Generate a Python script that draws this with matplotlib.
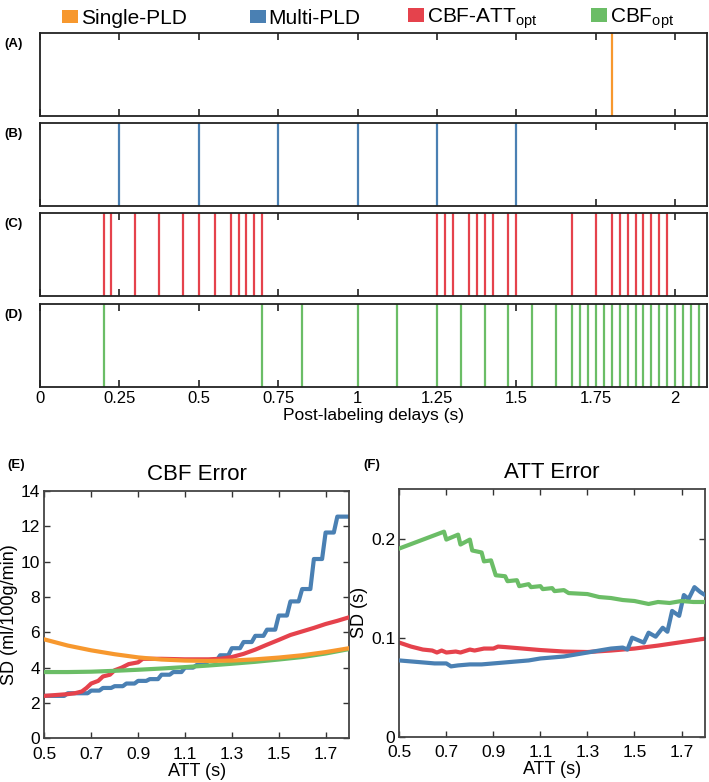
import matplotlib
matplotlib.use("Agg")
import matplotlib.pyplot as plt
from matplotlib.patches import Patch
import numpy as np

plt.rcParams['font.family'] = ['Liberation Sans', 'DejaVu Sans']

# colours and names of the four schemes
names = ['Single-PLD', 'Multi-PLD', r'CBF-ATT$_\mathregular{opt}$', r'CBF$_\mathregular{opt}$']
colors = ['#f7982e', '#4a80b3', '#e5424c', '#6bbd66']

# post-labeling delays (s) of each scheme
pld_single = [1.8]
pld_multi = [0.25, 0.5, 0.75, 1.0, 1.25, 1.5]
pld_cbfatt = [0.2, 0.225, 0.3, 0.375, 0.45, 0.5, 0.55, 0.6, 0.625, 0.65, 0.675, 0.7,
              1.25, 1.275, 1.3, 1.35, 1.375, 1.4, 1.425, 1.475, 1.5,
              1.675, 1.75, 1.8, 1.825, 1.85, 1.875, 1.9, 1.925, 1.95, 1.975]
pld_cbf = [0.2, 0.7, 0.825, 1.0, 1.125, 1.25, 1.325, 1.4, 1.475, 1.55, 1.625,
           1.675, 1.7, 1.725, 1.75, 1.775, 1.8, 1.825, 1.85, 1.875, 1.9, 1.925,
           1.95, 1.975, 2.0, 2.025, 2.05, 2.075]
pld_ticks = [0, 0.25, 0.5, 0.75, 1, 1.25, 1.5, 1.75, 2]
pld_ticklabels = ['0', '0.25', '0.5', '0.75', '1', '1.25', '1.5', '1.75', '2']

# (E) CBF error, SD in ml/100g/min
cbf_single_x = [0.5, 0.6, 0.7, 0.8, 0.9, 1.0, 1.1, 1.2, 1.3, 1.4, 1.5, 1.6, 1.7, 1.8]
cbf_single_y = [5.6, 5.25, 4.98, 4.76, 4.58, 4.46, 4.4, 4.38, 4.4, 4.47, 4.57, 4.7, 4.88, 5.1]
cbf_multi_steps = [0.5, 0.6, 0.7, 0.75, 0.8, 0.85, 0.9, 0.95, 1.0, 1.05, 1.1, 1.15, 1.2,
                   1.25, 1.3, 1.35, 1.4, 1.45, 1.5, 1.55, 1.6, 1.65, 1.7, 1.75]
cbf_multi_levels = [2.4, 2.55, 2.7, 2.85, 2.95, 3.1, 3.25, 3.35, 3.6, 3.75, 4.0, 4.15, 4.4,
                    4.7, 5.1, 5.45, 5.8, 6.15, 6.95, 7.75, 8.45, 10.15, 11.65, 12.55]
cbf_cbfatt_x = [0.5, 0.55, 0.6, 0.63, 0.66, 0.68, 0.7, 0.73, 0.75, 0.78, 0.8, 0.83, 0.86,
                0.88, 0.9, 0.92, 1.0, 1.1, 1.2, 1.25, 1.3, 1.35, 1.4, 1.45, 1.5, 1.55,
                1.6, 1.65, 1.7, 1.75, 1.8]
cbf_cbfatt_y = [2.4, 2.45, 2.5, 2.55, 2.65, 2.85, 3.1, 3.25, 3.5, 3.6, 3.85, 4.0, 4.2,
                4.25, 4.3, 4.5, 4.5, 4.47, 4.47, 4.5, 4.6, 4.78, 5.02, 5.3, 5.57, 5.85,
                6.05, 6.25, 6.47, 6.65, 6.85]
cbf_cbf_x = [0.5, 0.6, 0.7, 0.8, 0.9, 1.0, 1.1, 1.2, 1.3, 1.4, 1.5, 1.6, 1.7, 1.8]
cbf_cbf_y = [3.75, 3.75, 3.77, 3.82, 3.88, 3.95, 4.03, 4.12, 4.22, 4.33, 4.46, 4.6, 4.8, 5.05]

# (F) ATT error, SD in s
att_multi_x = [0.5, 0.55, 0.6, 0.65, 0.7, 0.72, 0.75, 0.8, 0.85, 0.9, 0.95, 1.0, 1.05,
               1.1, 1.15, 1.2, 1.25, 1.3, 1.35, 1.4, 1.45, 1.47, 1.49, 1.52, 1.54, 1.56,
               1.59, 1.62, 1.64, 1.66, 1.69, 1.71, 1.73, 1.755, 1.78, 1.8]
att_multi_y = [0.077, 0.076, 0.075, 0.074, 0.074, 0.071, 0.072, 0.073, 0.073, 0.074,
               0.075, 0.076, 0.077, 0.079, 0.080, 0.081, 0.083, 0.085, 0.087, 0.089,
               0.090, 0.088, 0.100, 0.097, 0.095, 0.105, 0.101, 0.110, 0.106, 0.127,
               0.122, 0.143, 0.139, 0.151, 0.146, 0.143]
att_cbfatt_x = [0.5, 0.55, 0.6, 0.64, 0.66, 0.68, 0.7, 0.74, 0.76, 0.8, 0.82, 0.86, 0.9,
                0.92, 0.95, 1.0, 1.1, 1.2, 1.3, 1.4, 1.5, 1.6, 1.7, 1.8]
att_cbfatt_y = [0.095, 0.091, 0.088, 0.087, 0.085, 0.087, 0.085, 0.086, 0.085, 0.088,
                0.087, 0.089, 0.089, 0.091, 0.0905, 0.0895, 0.0875, 0.086, 0.0855,
                0.087, 0.089, 0.092, 0.0955, 0.099]
att_cbf_x = [0.5, 0.69, 0.70, 0.75, 0.76, 0.80, 0.81, 0.85, 0.86, 0.89, 0.91, 0.95, 0.96,
             1.0, 1.01, 1.05, 1.06, 1.1, 1.11, 1.15, 1.16, 1.2, 1.22, 1.3, 1.35, 1.4,
             1.45, 1.5, 1.56, 1.6, 1.65, 1.7, 1.75, 1.8]
att_cbf_y = [0.190, 0.207, 0.199, 0.204, 0.194, 0.199, 0.188, 0.186, 0.177, 0.178, 0.163,
             0.162, 0.157, 0.158, 0.152, 0.154, 0.151, 0.152, 0.149, 0.150, 0.147, 0.148,
             0.145, 0.144, 0.141, 0.140, 0.138, 0.137, 0.134, 0.136, 0.135, 0.137,
             0.136, 0.136]

fig = plt.figure(figsize=(7.09, 7.82), dpi=100)

# --- PLD schedules ---
pld_sets = [pld_single, pld_multi, pld_cbfatt, pld_cbf]
panel_tags = ['(A)', '(B)', '(C)', '(D)']
bottoms = [0.852, 0.737, 0.621, 0.505]
for i, (plds, tag, b) in enumerate(zip(pld_sets, panel_tags, bottoms)):
    ax = fig.add_axes([0.0564, b, 0.9408, 0.106])
    ax.vlines(plds, 0, 1, color=colors[i], lw=1.6)
    ax.set_xlim(0, 2.1)
    ax.set_ylim(0, 1)
    ax.set_yticks([])
    ax.set_xticks(pld_ticks)
    ax.tick_params(axis='x', direction='in', length=5, width=1.2, top=True,
                   labelsize=12, pad=3, color='#222222')
    if i < 3:
        ax.set_xticklabels([])
    else:
        ax.set_xticklabels(pld_ticklabels)
        ax.set_xlabel('Post-labeling delays (s)', fontsize=12.5, labelpad=1)
    for s in ax.spines.values():
        s.set_linewidth(1.3)
        s.set_color('#222222')
    fig.text(0.006, b + 0.092, tag, fontsize=9.5, fontweight='bold', va='center')

# --- error curves ---
def style(ax):
    ax.set_xlim(0.5, 1.8)
    ax.set_xticks([0.5, 0.7, 0.9, 1.1, 1.3, 1.5, 1.7])
    ax.set_xticklabels(['0.5', '0.7', '0.9', '1.1', '1.3', '1.5', '1.7'])
    ax.tick_params(direction='in', length=4, width=1, top=True, right=True,
                   labelsize=12.5, color='#333333')
    ax.tick_params(axis='x', pad=6)
    ax.tick_params(axis='y', pad=3)
    for s in ax.spines.values():
        s.set_linewidth(1.3)
        s.set_color('#444444')
    ax.set_xlabel('ATT (s)', fontsize=13, labelpad=1)

axE = fig.add_axes([0.0625, 0.0559, 0.4298, 0.3162])
stair_x, stair_y = [], []
ends = cbf_multi_steps[1:] + [1.8]
for s0, s1, lev in zip(cbf_multi_steps, ends, cbf_multi_levels):
    stair_x += [s0, s1 - 0.015 if s1 < 1.8 else s1]
    stair_y += [lev, lev]
axE.plot(stair_x, stair_y, color=colors[1], lw=3, zorder=2)
axE.plot(cbf_cbfatt_x, cbf_cbfatt_y, color=colors[2], lw=3, zorder=3)
axE.plot(cbf_cbf_x, cbf_cbf_y, color=colors[3], lw=3, zorder=4)
axE.plot(cbf_single_x, cbf_single_y, color=colors[0], lw=3, zorder=5)
axE.set_ylim(0, 14)
axE.set_yticks(range(0, 15, 2))
axE.set_ylabel('SD (ml/100g/min)', fontsize=13, labelpad=2)
axE.set_title('CBF Error', fontsize=16, pad=8)
style(axE)
fig.text(0.011, 0.405, '(E)', fontsize=9.5, fontweight='bold', va='center')

axF = fig.add_axes([0.5632, 0.0579, 0.4312, 0.3167])
axF.plot(att_cbfatt_x, att_cbfatt_y, color=colors[2], lw=3, zorder=2)
axF.plot(att_multi_x, att_multi_y, color=colors[1], lw=3, zorder=3)
axF.plot(att_cbf_x, att_cbf_y, color=colors[3], lw=3, zorder=4)
axF.set_ylim(0, 0.25)
axF.set_yticks([0, 0.1, 0.2])
axF.set_yticklabels(['0', '0.1', '0.2'])
axF.set_ylabel('SD (s)', fontsize=13, labelpad=2)
axF.set_title('ATT Error', fontsize=16, pad=8)
style(axF)
fig.text(0.512, 0.405, '(F)', fontsize=9.5, fontweight='bold', va='center')

# legend across the top, one entry per slot
legend_x = [0.088, 0.3526, 0.5755, 0.8336]
for name, c, lx in zip(names, colors, legend_x):
    fig.legend([Patch(facecolor=c, edgecolor='none')], [name], loc='center left',
               bbox_to_anchor=(lx, 0.9766), frameon=False, fontsize=15,
               handlelength=0.75, handleheight=0.65, handletextpad=0.15,
               borderpad=0, borderaxespad=0)

fig.savefig('out.png', dpi=100)
